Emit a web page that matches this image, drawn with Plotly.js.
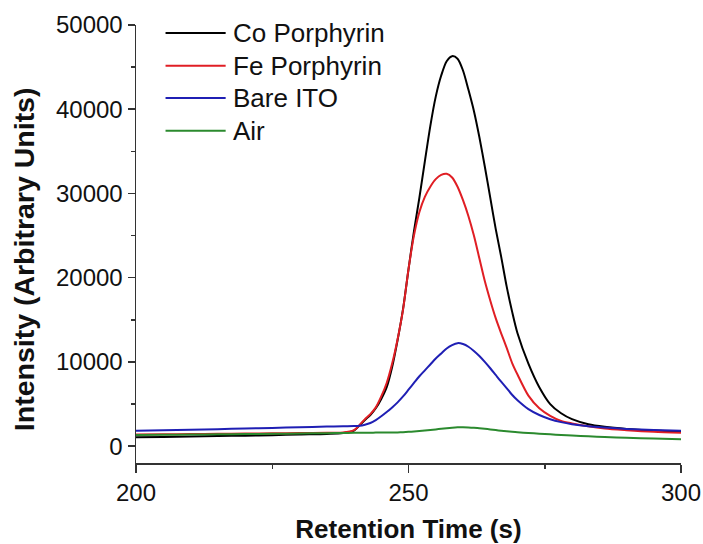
<!DOCTYPE html>
<html>
<head>
<meta charset="utf-8">
<script src="https://cdn.plot.ly/plotly-3.0.1.min.js"></script>
<style>
  html, body { margin: 0; padding: 0; background: #fff; }
  #chart { width: 703px; height: 544px; }
</style>
</head>
<body>
<div id="chart"></div>
<script>
// Retention time grid (s)
const time = [200, 205, 210, 215, 220, 225, 230, 235, 238, 240, 241, 242, 243, 244, 245, 246, 247, 248, 249,
  250, 251, 252, 253, 254, 255, 256, 257, 258, 259, 260, 261, 262, 263, 264, 265, 266, 267, 268, 269,
  270, 272, 274, 276, 278, 280, 283, 286, 290, 295, 300];

// Detector intensity (arbitrary units) for each electrode
const coPorphyrin = [1050, 1100, 1150, 1200, 1250, 1300, 1380, 1450, 1550, 1850, 2450, 3100, 3700, 4500, 5600, 7000, 9400, 12600, 16300,
  21000, 25500, 29500, 33800, 38000, 41500, 44000, 45700, 46300, 46000, 44600, 42300, 39800, 36700, 33200, 29500, 25800, 22500, 19000, 16000,
  13400, 9800, 7000, 5000, 3900, 3200, 2600, 2300, 2050, 1850, 1700];

const fePorphyrin = [1380, 1410, 1440, 1470, 1500, 1530, 1560, 1590, 1610, 1900, 2500, 3200, 3800, 4600, 5900, 7500, 9800, 12700, 16200,
  21000, 25000, 27800, 29600, 30800, 31700, 32200, 32330, 31900, 30800, 29200, 27300, 25000, 22300, 19600, 17300, 15200, 13400, 11700, 9900,
  8500, 6000, 4500, 3600, 3000, 2700, 2350, 2100, 1900, 1700, 1580];

const bareITO = [1820, 1880, 1950, 2020, 2100, 2170, 2250, 2320, 2360, 2380, 2420, 2550, 2750, 3100, 3550, 4050, 4600, 5200, 5900,
  6700, 7500, 8300, 9000, 9700, 10400, 11000, 11600, 12000, 12230, 12120, 11800, 11300, 10700, 10000, 9250, 8450, 7650, 6900, 6100,
  5450, 4400, 3700, 3200, 2850, 2600, 2350, 2200, 2050, 1930, 1820];

const air = [1310, 1340, 1370, 1400, 1430, 1460, 1500, 1540, 1570, 1580, 1590, 1600, 1600, 1610, 1610, 1620, 1620, 1630, 1660,
  1700, 1740, 1790, 1850, 1920, 1990, 2060, 2130, 2190, 2230, 2240, 2220, 2180, 2120, 2060, 1990, 1910, 1830, 1760, 1700,
  1650, 1560, 1480, 1400, 1330, 1260, 1180, 1080, 990, 900, 830];

const seriesNames = ['Co Porphyrin', 'Fe Porphyrin', 'Bare ITO', 'Air'];
const seriesValues = [coPorphyrin, fePorphyrin, bareITO, air];
const seriesColors = ['#000000', '#e01e24', '#1f1fb4', '#2b8a2e'];

const xTickVals = [200, 250, 300];
const yTickVals = [0, 10000, 20000, 30000, 40000, 50000];

const FONT = 'Liberation Sans, Arial, sans-serif';

const traces = seriesNames.map((name, i) => ({
  type: 'scatter',
  mode: 'lines',
  name: name,
  x: time,
  y: seriesValues[i],
  line: { color: seriesColors[i], width: 2, shape: 'spline', smoothing: 0.8 },
  showlegend: false,
  hoverinfo: 'skip'
}));

// Hand-built legend: long sample lines with labels at the upper left
const legendX0 = 0.0542, legendX1 = 0.1645, legendTextX = 0.1745;
const legendY = [0.9817, 0.9071, 0.8333, 0.7587];
const shapes = seriesNames.map((name, i) => ({
  type: 'line', xref: 'paper', yref: 'paper',
  x0: legendX0, x1: legendX1, y0: legendY[i], y1: legendY[i],
  line: { color: seriesColors[i], width: 2 }
}));
const annotations = seriesNames.map((name, i) => ({
  xref: 'paper', yref: 'paper', x: legendTextX, y: legendY[i],
  xanchor: 'left', yanchor: 'middle', showarrow: false,
  text: name, font: { family: FONT, size: 26, color: '#111' }
}));

// Vertical axis title, centred a little below the middle of the axis
annotations.push({
  xref: 'paper', yref: 'paper', x: -0.205, y: 0.466,
  xanchor: 'center', yanchor: 'middle', showarrow: false, textangle: -90,
  text: '<b>Intensity (Arbitrary Units)</b>',
  font: { family: FONT, size: 28.5, color: '#111' }
});

const layout = {
  width: 703,
  height: 544,
  margin: { l: 136, r: 22, t: 25, b: 81 },
  paper_bgcolor: '#ffffff',
  plot_bgcolor: '#ffffff',
  showlegend: false,
  xaxis: {
    range: [200, 300],
    tickvals: xTickVals,
    ticktext: xTickVals.map(String),
    ticks: 'outside', ticklen: 8, tickwidth: 1.5, tickcolor: '#333',
    minor: { ticks: 'outside', ticklen: 4, tickwidth: 1.5, tickcolor: '#333', dtick: 25, tick0: 200 },
    showline: true, linecolor: '#333', linewidth: 1.5,
    showgrid: false, zeroline: false,
    tickfont: { family: FONT, size: 24, color: '#111' },
    title: { text: '<b>Retention Time (s)</b>', font: { family: FONT, size: 26, color: '#111' }, standoff: 16 }
  },
  yaxis: {
    range: [-2000, 50000],
    tickvals: yTickVals,
    ticktext: yTickVals.map(String),
    ticks: 'outside', ticklen: 7, tickwidth: 1.5, tickcolor: '#333',
    minor: { ticks: 'outside', ticklen: 4, tickwidth: 1.5, tickcolor: '#333', dtick: 5000, tick0: 0 },
    showline: true, linecolor: '#333', linewidth: 1.5,
    showgrid: false, zeroline: false,
    tickfont: { family: FONT, size: 24, color: '#111' }
  },
  shapes: shapes,
  annotations: annotations
};

Plotly.newPlot('chart', traces, layout, { displayModeBar: false, staticPlot: true });
</script>
</body>
</html>
